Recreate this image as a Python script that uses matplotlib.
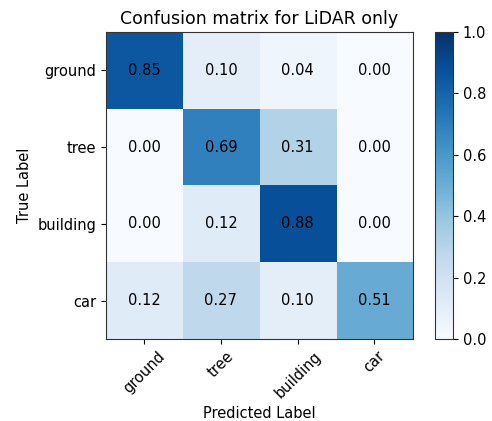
import numpy as np
import matplotlib
matplotlib.use('Agg')
import matplotlib.pyplot as plt

# Classes and normalised confusion values (rows = true, cols = predicted)
classes = ['ground', 'tree', 'building', 'car']
row_ground = [0.85, 0.10, 0.04, 0.00]
row_tree = [0.00, 0.69, 0.31, 0.00]
row_building = [0.00, 0.12, 0.88, 0.00]
row_car = [0.12, 0.27, 0.10, 0.51]

cm = np.array([row_ground, row_tree, row_building, row_car])

fig = plt.figure(figsize=(4.92, 4.21), dpi=100)
ax = fig.add_axes([0.215, 0.195, 0.624, 0.729])
cax = fig.add_axes([0.884, 0.195, 0.037, 0.729])

im = ax.imshow(cm, interpolation='nearest', cmap=plt.cm.Blues, vmin=0, vmax=1, aspect='auto')
ax.set_title('Confusion matrix for LiDAR only', fontsize=12.5)
cb = fig.colorbar(im, cax=cax)
cb.set_ticks([0.0, 0.2, 0.4, 0.6, 0.8, 1.0])
cb.ax.tick_params(labelsize=10.5)

ticks = np.arange(len(classes))
ax.set_xticks(ticks)
ax.set_xticklabels(classes, rotation=45)
ax.set_yticks(ticks)
ax.set_yticklabels(classes)
ax.tick_params(labelsize=10.5)

# Cell annotations
for i in range(cm.shape[0]):
    for j in range(cm.shape[1]):
        ax.text(j, i, format(cm[i, j], '.2f'), ha='center', va='center',
                color='black', fontsize=10.5)

ax.set_ylabel('True Label', fontsize=10.5)
ax.set_xlabel('Predicted Label', fontsize=10.5)

for sp in list(ax.spines.values()) + list(cb.ax.spines.values()):
    sp.set_edgecolor('#333333')

fig.savefig('out.png', dpi=100)
